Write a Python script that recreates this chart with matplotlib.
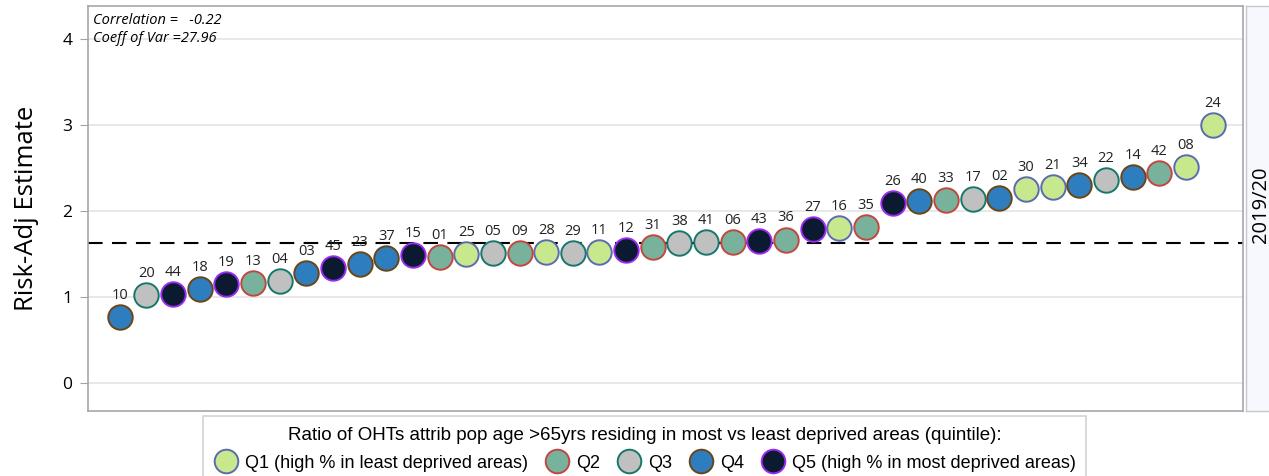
import matplotlib
matplotlib.use('Agg')
import matplotlib.pyplot as plt
from matplotlib.lines import Line2D

# area codes, sorted by estimate
codes = ['10', '20', '44', '18', '19', '13', '04', '03', '45', '23',
         '37', '15', '01', '25', '05', '09', '28', '29', '11', '12',
         '31', '38', '41', '06', '43', '36', '27', '16', '35', '26',
         '40', '33', '17', '02', '30', '21', '34', '22', '14', '42',
         '08', '24']
estimates = [0.77, 1.03, 1.04, 1.10, 1.15, 1.17, 1.19, 1.28, 1.34, 1.39,
             1.46, 1.49, 1.47, 1.50, 1.51, 1.51, 1.525, 1.51, 1.525, 1.545,
             1.58, 1.63, 1.64, 1.64, 1.65, 1.67, 1.79, 1.80, 1.82, 2.09,
             2.12, 2.13, 2.14, 2.15, 2.26, 2.28, 2.30, 2.36, 2.39, 2.44,
             2.51, 3.00]
quintile = [4, 3, 5, 4, 5, 2, 3, 4, 5, 4,
            4, 5, 2, 1, 3, 2, 1, 3, 1, 5,
            2, 3, 3, 2, 5, 2, 5, 1, 2, 5,
            4, 2, 3, 4, 1, 1, 4, 3, 4, 2,
            1, 1]
mean_est = 1.63
correlation = -0.22
coeff_var = 27.96
period = '2019/20'

q_labels = ['Q1 (high % in least deprived areas)', 'Q2', 'Q3', 'Q4',
            'Q5 (high % in most deprived areas)']
q_fill = ['#c8e88e', '#78b29c', '#c0c0c0', '#2e7ebf', '#0b1a30']
q_edge = ['#5a6bb0', '#c0483f', '#16786a', '#6b4518', '#9a2bf0']

plt.rcParams['font.family'] = ['Open Sans', 'DejaVu Sans']

fig = plt.figure(figsize=(12.69, 4.76), dpi=100)
ax = fig.add_axes([0.0691, 0.1366, 0.9106, 0.8508])

ax.axhline(mean_est, color='black', lw=1.5, dashes=(7, 4.5), zorder=2)

xs = list(range(len(codes)))
for q in range(1, 6):
    idx = [i for i in xs if quintile[i] == q]
    ax.scatter([xs[i] for i in idx], [estimates[i] for i in idx], s=310,
               c=q_fill[q - 1], edgecolors=q_edge[q - 1], linewidths=1.4,
               zorder=3)

for i, (c, v) in enumerate(zip(codes, estimates)):
    ax.annotate(c, (i, v), xytext=(0, 15.5), textcoords='offset points',
                ha='center', va='center', fontsize=10.5, color='#222222')

ax.set_xlim(-1.2, len(codes) - 1 + 1.15)
ax.set_ylim(-0.32, 4.38)
ax.set_xticks([])
ax.set_yticks([0, 1, 2, 3, 4])
ax.tick_params(axis='y', labelsize=12.5, length=6, color='#a0a4a8', pad=5)
ax.grid(axis='y', color='#e4e4e4', lw=1.2, zorder=0)
ax.set_axisbelow(True)
for sp in ax.spines.values():
    sp.set_color('#a4a8ac')
    sp.set_linewidth(1.2)
ax.set_ylabel('Risk-Adj Estimate', fontsize=18.5, labelpad=17)

ax.text(0.005, 0.983, 'Correlation =   %.2f' % correlation, transform=ax.transAxes,
        fontsize=10.5, style='italic', va='top', ha='left')
ax.text(0.005, 0.938, 'Coeff of Var =%.2f' % coeff_var, transform=ax.transAxes,
        fontsize=10.5, style='italic', va='top', ha='left')

# row header strip on the right
strip = fig.add_axes([0.9822, 0.1366, 0.03, 0.8508])
strip.set_facecolor('#f7f8fd')
strip.set_xticks([])
strip.set_yticks([])
for sp in strip.spines.values():
    sp.set_color('#c4c8cc')
    sp.set_linewidth(1.0)
strip.text(0.38, 0.51, period, rotation=90, ha='center', va='center',
           fontsize=14.5, transform=strip.transAxes)

handles = [Line2D([], [], ls='none', marker='o', markersize=17,
                  markerfacecolor=q_fill[k], markeredgecolor=q_edge[k],
                  markeredgewidth=1.4) for k in range(5)]
legend_font = ['Liberation Sans', 'DejaVu Sans']
leg = fig.legend(handles, q_labels, loc='upper center', ncol=5,
                 bbox_to_anchor=(0.508, 0.126), borderaxespad=0,
                 frameon=True, fancybox=False,
                 title='Ratio of OHTs attrib pop age >65yrs residing in most vs least deprived areas (quintile):',
                 prop={'family': legend_font, 'size': 13},
                 handletextpad=0.35, columnspacing=0.9, handlelength=1.4,
                 borderpad=0.6, labelspacing=0.6)
leg.get_title().set_fontfamily(legend_font)
leg.get_title().set_fontsize(13.5)
leg.get_frame().set_edgecolor('#c8c8c8')
leg.get_frame().set_linewidth(1.2)

fig.savefig('out.png', dpi=100)
